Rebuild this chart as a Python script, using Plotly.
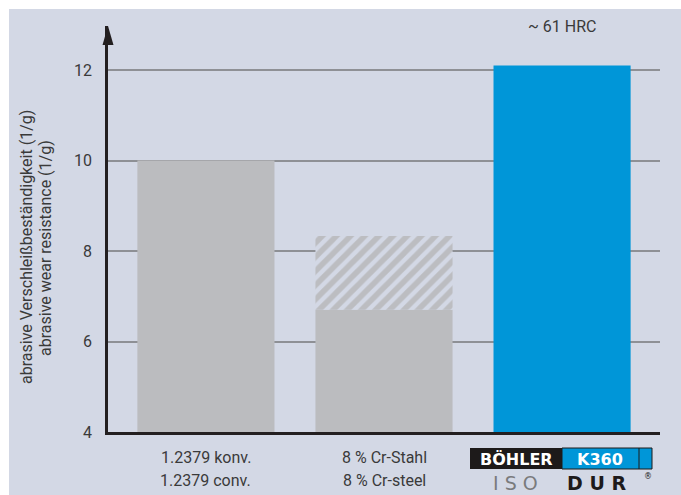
import plotly.graph_objects as go

# ---- data ----
categories = ["1.2379", "8 % Cr", "K360"]
labels_de = ["1.2379 konv.", "8 % Cr-Stahl", ""]
labels_en = ["1.2379 conv.", "8 % Cr-steel", ""]
solid_values = [10.0, 6.7, 12.1]
hatch_index = [1]
hatch_low = [6.7]
hatch_high = [8.33]
bar_colors = ["#bbbcbf", "#bbbcbf", "#0096d8"]
y_ticks = [4, 6, 8, 10, 12]
annotation_hrc = "~ 61 HRC"

BG = "#d3d8e5"
FONT = "Roboto, sans-serif"
TXT = "#3a3a3a"

W, H = 681, 495
L, R, T, B = 108, 21, 26, 63
pw, ph = W - L - R, H - T - B

def px(x):
    return (x - L) / pw

def py(y):
    return (H - B - y) / ph

xpos = list(range(len(categories)))

fig = go.Figure()
fig.add_trace(go.Bar(
    x=xpos, y=solid_values, marker=dict(color=bar_colors, line=dict(width=0)),
    width=0.77, hoverinfo="skip", name="solid"))
fig.add_trace(go.Bar(
    x=hatch_index, y=[h - l for h, l in zip(hatch_high, hatch_low)], base=hatch_low,
    width=0.77, hoverinfo="skip", name="range",
    marker=dict(color=BG, line=dict(width=0),
                pattern=dict(shape="/", fgcolor="#bcbdc1", bgcolor=BG, size=10,
                             solidity=0.55, fgopacity=1))))

shapes = [
    dict(type="rect", xref="paper", yref="paper", x0=px(9), x1=px(681), y0=py(495), y1=py(9),
         fillcolor=BG, line=dict(width=0), layer="below"),
    dict(type="path", xref="paper", yref="paper",
         path=f"M {px(108)},{py(26)} L {px(102.5)},{py(45)} L {px(113.5)},{py(45)} Z",
         fillcolor="#231f20", line=dict(width=0)),
]

C = dict(xanchor="center", yanchor="middle", showarrow=False)

annotations = [
    dict(text=annotation_hrc, x=xpos[2], y=py(26), xref="x", yref="paper",
         font=dict(family=FONT, size=16, color=TXT), **C),
    dict(text="abrasive Verschleißbeständigkeit (1/g)", xref="paper", yref="paper",
         x=px(26), y=py(247), textangle=-90,
         font=dict(family=FONT, size=16, color=TXT), **C),
    dict(text="abrasive wear resistance (1/g)", xref="paper", yref="paper",
         x=px(45), y=py(248), textangle=-90,
         font=dict(family=FONT, size=16, color=TXT), **C),
]
for i, de, en in zip(xpos, labels_de, labels_en):
    if de:
        annotations.append(dict(text=de, x=i, xref="x", yref="paper", y=py(457),
                                font=dict(family=FONT, size=16, color=TXT), **C))
        annotations.append(dict(text=en, x=i, xref="x", yref="paper", y=py(481),
                                font=dict(family=FONT, size=16, color=TXT), **C))

# logo
shapes += [
    dict(type="rect", xref="paper", yref="paper", x0=px(470), x1=px(562), y0=py(469), y1=py(448),
         fillcolor="#1d1a1a", line=dict(width=0)),
    dict(type="rect", xref="paper", yref="paper", x0=px(562), x1=px(652), y0=py(469), y1=py(448),
         fillcolor="#0096d8", line=dict(color="#1d1a1a", width=1)),
    dict(type="line", xref="paper", yref="paper", x0=px(639), x1=px(639), y0=py(469), y1=py(448),
         line=dict(color="#1d1a1a", width=1)),
]
annotations += [
    dict(text="<b>BÖHLER</b>", xref="paper", yref="paper", x=px(516), y=py(459),
         font=dict(family="DejaVu Sans", size=16, color="white"), **C),
    dict(text="<b>K360</b>", xref="paper", yref="paper", x=px(600), y=py(459),
         font=dict(family="DejaVu Sans", size=16, color="white"), **C),
    dict(text="I S O", xref="paper", yref="paper", x=px(515), y=py(483),
         font=dict(family="DejaVu Sans", size=19, color="#7a7b7d"), **C),
    dict(text="<b>D U R</b>", xref="paper", yref="paper", x=px(596), y=py(483),
         font=dict(family="DejaVu Sans", size=19, color="#1d1a1a"), **C),
    dict(text="®", xref="paper", yref="paper", x=px(648), y=py(476),
         font=dict(family="DejaVu Sans", size=8, color="#1d1a1a"), **C),
]

fig.update_layout(
    width=W, height=H, margin=dict(l=L, r=R, t=T, b=B, pad=0),
    paper_bgcolor="white", plot_bgcolor=BG,
    barmode="overlay", showlegend=False,
    shapes=shapes, annotations=annotations,
    xaxis=dict(range=[-0.55, 2.55], tickvals=xpos, ticktext=["" for _ in categories],
               ticks="", showgrid=False,
               showline=True, linecolor="#231f20", linewidth=2.5, zeroline=False),
    yaxis=dict(range=[4, 4 + ph / 45.25], tickvals=y_ticks, ticktext=[str(v) for v in y_ticks],
               showgrid=True, gridcolor="#8e9095", gridwidth=1.5, ticks="",
               showline=True, linecolor="#231f20", linewidth=2.5, zeroline=False,
               tickfont=dict(family=FONT, size=16, color=TXT), ticklabelstandoff=10),
)

fig.write_html("out.html")
